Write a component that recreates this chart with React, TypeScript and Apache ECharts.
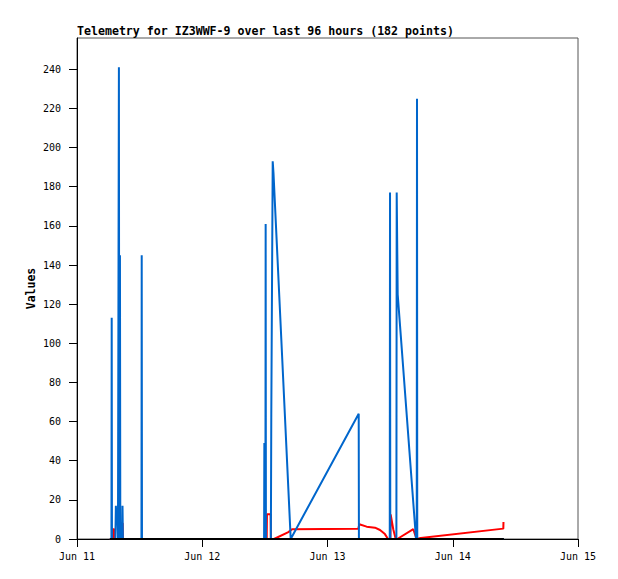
import React, { useEffect, useRef } from "react";
import * as echarts from "echarts";

// hours since Jun 11 00:00
const xLabels = ["Jun 11", "Jun 12", "Jun 13", "Jun 14", "Jun 15"];
const yTicks = [0, 20, 40, 60, 80, 100, 120, 140, 160, 180, 200, 220, 240];

const blueSeries: [number, number][] = [
  [6.3, 0], [6.6, 0], [6.65, 113], [6.7, 0], [7.35, 0], [7.45, 17], [7.6, 8], [7.72, 13], [7.85, 0],
  [7.98, 0], [8.03, 241], [8.1, 0], [8.18, 0], [8.23, 145], [8.3, 0], [8.65, 0], [8.72, 17], [8.8, 0],
  [12.35, 0], [12.4, 145], [12.45, 0], [35.85, 0], [35.9, 49], [35.95, 0], [36.1, 0], [36.15, 161], [36.2, 0],
  [37.15, 0], [37.23, 64], [37.5, 193], [37.65, 187], [40.95, 0], [53.98, 64], [54.02, 0], [59.93, 0], [59.98, 177], [60.03, 0],
  [61.2, 0], [61.26, 177], [61.45, 125], [64.96, 0], [65.1, 0], [65.15, 225], [65.2, 0], [81.8, 0],
];

const redSeries: [number, number][] = [
  [6.3, 0], [6.8, 0], [6.85, 5], [7.15, 5], [7.2, 0], [8.4, 0], [8.45, 8], [8.75, 8], [8.8, 0],
  [36.35, 0], [36.4, 12.6], [37.1, 12.6], [37.15, 0], [37.75, 0], [40.5, 3.5], [41.2, 5], [53.9, 5.2],
  [54.1, 7.5], [55.5, 6.3], [57.1, 5.8], [58.06, 4.6], [59.0, 2.5], [59.6, 0], [60.05, 0], [60.1, 12.6],
  [60.6, 5], [61.07, 0], [61.38, 0], [64.44, 5], [65.06, 0], [65.86, 0.5], [81.69, 5.3], [81.72, 8.7],
];

const blackSeries: [number, number][] = [
  [6.3, 0], [36.0, 0], [60.0, 0], [81.8, 0],
];

const FONT = "DejaVu Sans Mono";

export default function App() {
  const ref = useRef<HTMLDivElement>(null);
  useEffect(() => {
    if (!ref.current) return;
    const chart = echarts.init(ref.current, undefined, { renderer: "svg" });
    chart.setOption({
      animation: false,
      backgroundColor: "#ffffff",
      title: {
        text: "Telemetry for IZ3WWF-9 over last 96 hours (182 points)",
        left: 77,
        top: 24,
        padding: 0,
        textStyle: { fontFamily: FONT, fontSize: 11.6, fontWeight: "bold", color: "#000", lineHeight: 14 },
      },
      grid: { left: 77, right: 40, top: 38, bottom: 40, show: true, borderColor: "#555", borderWidth: 1, backgroundColor: "transparent" },
      xAxis: {
        type: "value",
        min: 0,
        max: 96,
        interval: 24,
        splitLine: { show: false },
        axisLine: { lineStyle: { color: "#000", width: 1 } },
        axisTick: { length: 8, lineStyle: { color: "#000" } },
        axisLabel: {
          margin: 12,
          fontFamily: FONT,
          fontSize: 10,
          color: "#000",
          formatter: (v: number) => xLabels[Math.round(v / 24)] ?? "",
        },
      },
      yAxis: {
        type: "value",
        min: 0,
        max: 256,
        interval: 20,
        name: "Values",
        nameLocation: "middle",
        nameRotate: 90,
        nameGap: 40,
        nameMoveOverlap: false,
        nameTextStyle: { fontFamily: FONT, fontSize: 11.5, fontWeight: "bold", color: "#000" },
        splitLine: { show: false },
        axisLine: { show: true, lineStyle: { color: "#000", width: 1 } },
        axisTick: { show: true, length: 8, customValues: yTicks, lineStyle: { color: "#000" } },
        axisLabel: { margin: 16, fontFamily: FONT, fontSize: 10, color: "#000", customValues: yTicks },
      },
      series: [
        {
          type: "line",
          data: redSeries,
          symbol: "none",
          lineStyle: { color: "#ff0000", width: 2 },
          itemStyle: { color: "#ff0000" },
          z: 2,
        },
        {
          type: "line",
          data: blueSeries,
          symbol: "none",
          lineStyle: { color: "#0066cc", width: 2 },
          itemStyle: { color: "#0066cc" },
          z: 3,
        },
        {
          type: "line",
          data: blackSeries,
          symbol: "none",
          lineStyle: { color: "#000000", width: 2 },
          itemStyle: { color: "#000000" },
          z: 4,
        },
      ],
    });
    return () => chart.dispose();
  }, []);
  return <div ref={ref} style={{ position: "absolute", left: 0, top: 0, width: 618, height: 579 }} />;
}
